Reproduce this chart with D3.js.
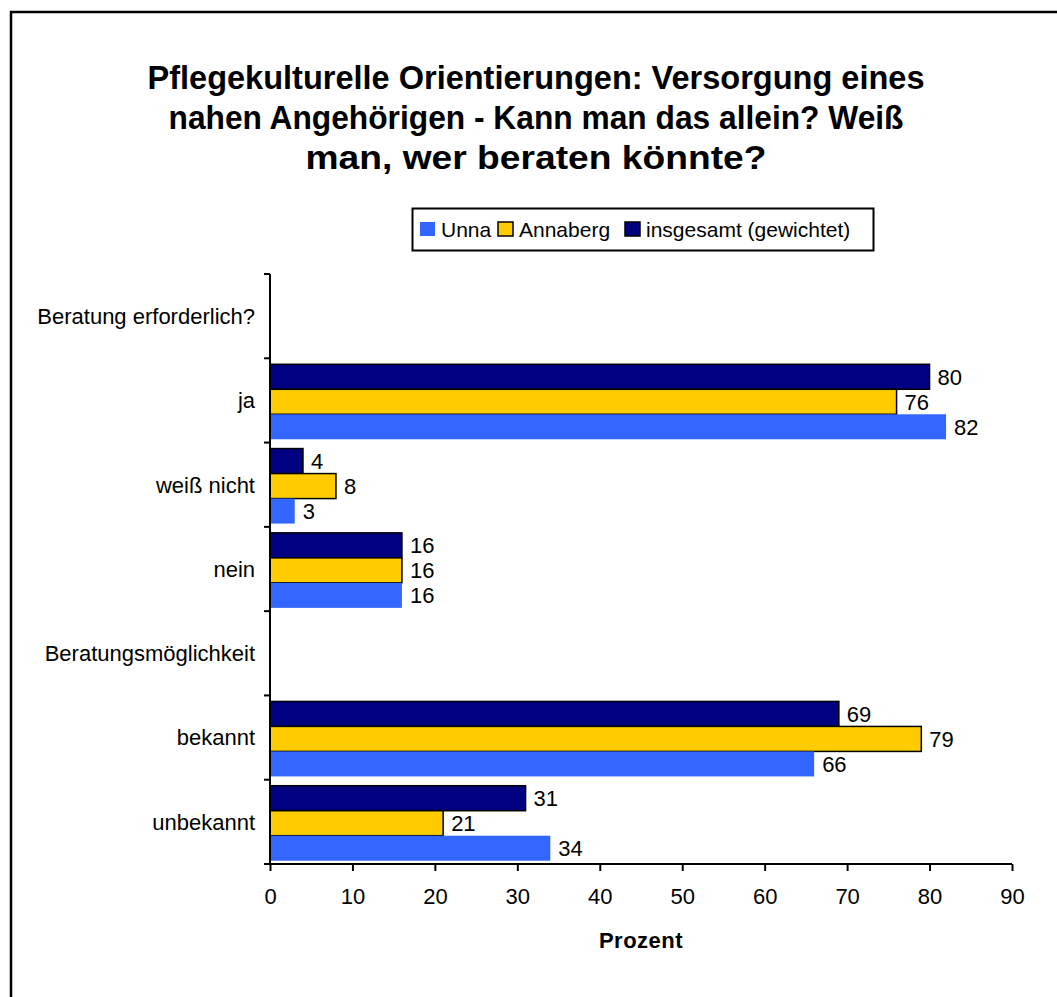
<!DOCTYPE html>
<html><head><meta charset="utf-8">
<script src="https://cdn.jsdelivr.net/npm/d3@7"></script>
<style>
html,body{margin:0;padding:0;background:#fff;}
svg{display:block;font-family:"Liberation Sans",Arial,sans-serif;}
</style></head>
<body>
<svg id="chart" width="1057" height="997"></svg>
<script>
const titleLines = ["Pflegekulturelle Orientierungen: Versorgung eines",
  "nahen Angehörigen - Kann man das allein? Weiß",
  "man, wer beraten könnte?"];
const categories = ["Beratung erforderlich?", "ja", "weiß nicht", "nein", "Beratungsmöglichkeit", "bekannt", "unbekannt"];
const seriesNames = ["Unna", "Annaberg", "insgesamt (gewichtet)"];
const unna      = [null, 82, 3, 16, null, 66, 34];
const annaberg  = [null, 76, 8, 16, null, 79, 21];
const insgesamt = [null, 80, 4, 16, null, 69, 31];
const xTicks = [0,10,20,30,40,50,60,70,80,90];
const xLabel = "Prozent";
const colors = {"Unna":"#3366FF","Annaberg":"#FFCC00","insgesamt (gewichtet)":"#000080"};

const FONT = "Liberation Sans, Arial, sans-serif";
const svg = d3.select("#chart");

// outer border
svg.append("rect").attr("x",11).attr("y",12).attr("width",1200).attr("height",1200)
  .attr("fill","none").attr("stroke","#000").attr("stroke-width",2.5);

// title
const titleWidths = [777, 735, 461];
titleLines.forEach((t,i)=>{
  svg.append("text").attr("x",536).attr("y",89+i*40).attr("text-anchor","middle")
    .attr("font-family",FONT)
    .attr("font-size",33).attr("font-weight","bold").attr("fill","#000")
    .attr("textLength",titleWidths[i]).attr("lengthAdjust","spacingAndGlyphs")
    .text(t);
});

// scales
const x = d3.scaleLinear().domain([0,90]).range([270,1012]);
const y = d3.scaleBand().domain(categories).range([274,864]);
const order = ["insgesamt (gewichtet)","Annaberg","Unna"];
const ySub = d3.scaleBand().domain(order).range([6, 81]);

const valuesBySeries = {"Unna":unna,"Annaberg":annaberg,"insgesamt (gewichtet)":insgesamt};
const rows = [];
categories.forEach((c,i)=>{
  order.forEach(s=>{
    const v = valuesBySeries[s][i];
    if (v!=null) rows.push({cat:c, series:s, value:v});
  });
});

const bars = svg.append("g");
bars.selectAll("rect").data(rows).enter().append("rect")
  .attr("x", x(0))
  .attr("y", d=> y(d.cat)+ySub(d.series))
  .attr("width", d=> x(d.value)-x(0))
  .attr("height", ySub.bandwidth())
  .attr("fill", d=> colors[d.series])
  .attr("stroke", d=> d.series==="Unna" ? "none" : "#000")
  .attr("stroke-width", 1.5);

bars.selectAll("text").data(rows).enter().append("text")
  .attr("x", d=> x(d.value)+8)
  .attr("y", d=> y(d.cat)+ySub(d.series)+ySub.bandwidth()/2)
  .attr("dy","0.36em")
  .attr("font-size",22).attr("fill","#000")
  .text(d=>d.value);

// y axis
const gy = svg.append("g").attr("transform",`translate(${x(0)},0)`);
gy.append("line").attr("x1",0).attr("x2",0).attr("y1",274).attr("y2",864).attr("stroke","#000").attr("stroke-width",2);
const bounds = [...categories.map(c=>y(c)), 864];
gy.selectAll("line.tk").data(bounds).enter().append("line").attr("class","tk")
  .attr("x1",-6).attr("x2",0).attr("y1",d=>d).attr("y2",d=>d).attr("stroke","#000").attr("stroke-width",2);
gy.selectAll("text").data(categories).enter().append("text")
  .attr("x",-15).attr("y",d=>y(d)+y.bandwidth()/2).attr("dy","0.36em")
  .attr("text-anchor","end").attr("font-size",22).attr("fill","#000").text(d=>d);

// x axis
const xAxis = d3.axisBottom(x).tickValues(xTicks).tickSize(7).tickSizeOuter(0).tickFormat(d3.format("d"));
const gx = svg.append("g").attr("transform","translate(0,864)").call(xAxis);
gx.select(".domain").attr("stroke","#000").attr("stroke-width",2).attr("d",`M${x(0)-6},0H${x(90)}`);
gx.selectAll(".tick line").attr("stroke","#000").attr("stroke-width",2);
gx.selectAll(".tick text").attr("font-size",22).attr("font-family",FONT)
  .attr("fill","#000").attr("y",24).attr("dy","0.71em");

svg.append("text").attr("x",641).attr("y",948).attr("text-anchor","middle")
  .attr("font-size",22).attr("font-weight","bold").attr("letter-spacing",0.5).text(xLabel);

// legend
const lg = svg.append("g");
lg.append("rect").attr("x",412.5).attr("y",208.5).attr("width",461).attr("height",42)
  .attr("fill","#fff").attr("stroke","#000").attr("stroke-width",2);
const legendX = [420, 498, 625];
seriesNames.forEach((s,i)=>{
  lg.append("rect").attr("x",legendX[i]).attr("y",222).attr("width",15).attr("height",14)
    .attr("fill",colors[s]).attr("stroke", s==="Unna" ? "none" : "#000").attr("stroke-width",1.5);
  lg.append("text").attr("x",legendX[i]+21).attr("y",229).attr("dy","0.36em")
    .attr("font-size",21).attr("fill","#000").text(s);
});
</script>
</body></html>
